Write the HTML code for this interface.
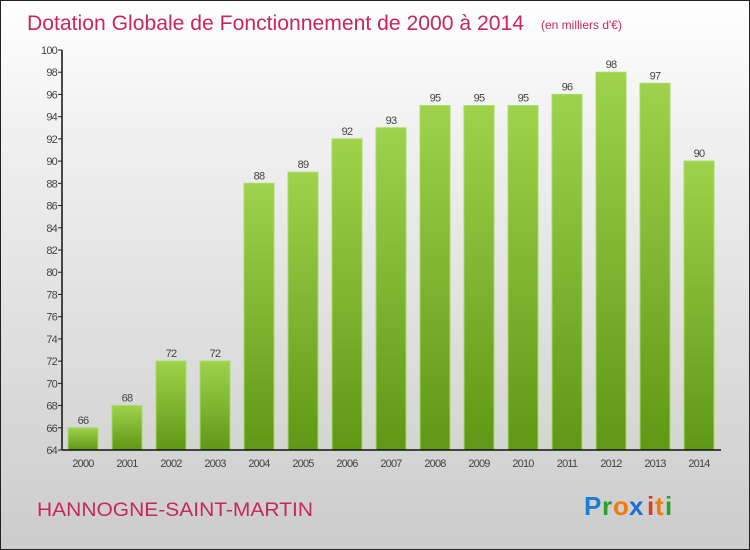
<!DOCTYPE html>
<html><head><meta charset="utf-8"><style>
body{margin:0;}
#c{position:relative;width:748px;height:548px;border:1px solid #222;background:linear-gradient(#fff 0%,#f0f0f0 25%,#ccc 100%);font-family:"Liberation Sans",sans-serif;overflow:hidden}
svg text{font-family:"Liberation Sans",sans-serif}
</style></head><body>
<div id="c">
<svg id="s" width="748" height="548">
<defs><linearGradient id="g" x1="0" y1="0" x2="0" y2="1"><stop offset="0" stop-color="#9fd24c"/><stop offset="1" stop-color="#5e9816"/></linearGradient></defs>
<text x="26" y="29" font-size="21" fill="#c8265e" textLength="497" lengthAdjust="spacingAndGlyphs">Dotation Globale de Fonctionnement de 2000 à 2014</text>
<text x="540" y="28" font-size="12" fill="#c8265e">(en milliers d'€)</text>
<text x="36" y="515" font-size="19" fill="#c8265e" textLength="276" lengthAdjust="spacingAndGlyphs">HANNOGNE-SAINT-MARTIN</text>
<g font-size="26" font-weight="bold" font-family="Liberation Sans, sans-serif">
<text x="583" y="514" fill="#1a7fd0">P</text><text x="601" y="514" fill="#2c9f2c">r</text><text x="612" y="514" fill="#f07a10">o</text><text x="628" y="514" fill="#1a6fd0">x</text><text x="646" y="514" fill="#e03a20">i</text><text x="654" y="514" fill="#f07a10">t</text><text x="664" y="514" fill="#2c9f2c">i</text>
</g>
<g id="plot"></g>
</svg></div>
<script>
const years=["2000","2001","2002","2003","2004","2005","2006","2007","2008","2009","2010","2011","2012","2013","2014"];
const values=[66,68,72,72,88,89,92,93,95,95,95,96,98,97,90];
const yTicks=[64,66,68,70,72,74,76,78,80,82,84,86,88,90,92,94,96,98,100];
const NS="http://www.w3.org/2000/svg";
const g=document.getElementById('plot');
const y=v=>449-(v-64)*(400/36);
const x=i=>82+i*44;
function mk(t,a,txt){const e=document.createElementNS(NS,t);for(const k in a)e.setAttribute(k,a[k]);if(txt!==undefined)e.textContent=txt;g.appendChild(e);return e;}
yTicks.forEach(v=>{
 const t=mk('line',{x1:57,x2:61,y1:y(v),y2:y(v),stroke:'#222'});
 
 
 const l=mk('text',{x:56,y:y(v)+4,'font-size':11,'text-anchor':'end',fill:'#444','letter-spacing':'-0.8'},v);
 
 
});
values.forEach((v,i)=>{
 const b=mk('rect',{x:x(i)-15,y:y(v),width:30,height:y(64)-y(v),fill:'url(#g)',stroke:'#a8dc60','stroke-width':1});
 
 
 const vl=mk('text',{x:x(i),y:y(v)-4,'font-size':11,'text-anchor':'middle',fill:'#444','letter-spacing':'-0.8'},v);
 
 
 const xl=mk('text',{x:x(i),y:466,'font-size':11,'text-anchor':'middle',fill:'#444','letter-spacing':'-0.8'},years[i]);
 
 
});
const ya=mk('line',{x1:61,x2:61,y1:y(100),y2:y(64),stroke:'#111','stroke-width':1.5});


const xa=mk('line',{x1:61,x2:720,y1:y(64),y2:y(64),stroke:'#111','stroke-width':1.5});


</script>
</body></html>
